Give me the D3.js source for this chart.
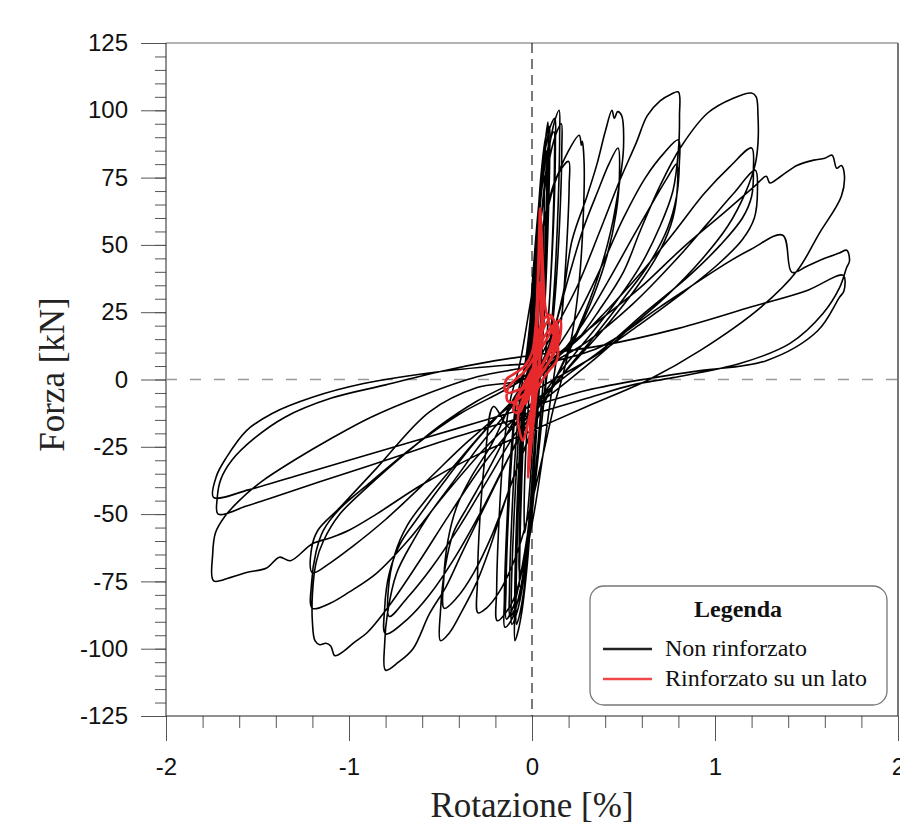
<!DOCTYPE html>
<html>
<head>
<meta charset="utf-8">
<script src="https://cdn.jsdelivr.net/npm/d3@7"></script>
<style>
  html, body { margin: 0; padding: 0; background: #ffffff; }
  svg { display: block; }
</style>
</head>
<body>
<svg id="chart" width="900" height="832"></svg>
<script>
// ---------------- DATA ----------------
const xTickValues = [-2, -1, 0, 1, 2];
const yTickValues = [-125, -100, -75, -50, -25, 0, 25, 50, 75, 100, 125];
const xMinorStep = 0.2;
const yMinorStep = 5;
const xTitle = "Rotazione [%]";
const yTitle = "Forza [kN]";
const legendTitle = "Legenda";
const seriesNames = ["Non rinforzato", "Rinforzato su un lato"];
const seriesColors = ["#000000", "#e8292c"];

// Non rinforzato: cycles [rotation %, force kN]
const c01 = [[0,0],[0.012,20],[0.025,38],[0.038,52],[0.046,58],[0.047,50],[0.041,32],[0.031,14],[0.02,0],[0.008,-18],[-0.008,-36],[-0.025,-50],[-0.04,-57],[-0.043,-48],[-0.036,-30],[-0.022,-12],[-0.01,0]];
const c02 = [[-0.005,6],[0.01,28],[0.028,50],[0.048,67],[0.065,76],[0.067,66],[0.06,44],[0.048,22],[0.034,4],[0.02,-16],[0.0,-38],[-0.022,-56],[-0.045,-67],[-0.068,-72],[-0.07,-62],[-0.062,-40],[-0.048,-18],[-0.03,-3]];
const c03 = [[0,6],[0.015,28],[0.035,55],[0.055,75],[0.072,88],[0.087,95.6],[0.089,86],[0.082,62],[0.068,35],[0.05,12],[0.035,-2],[0.02,-22],[0.0,-45],[-0.025,-68],[-0.055,-86],[-0.078,-94],[-0.093,-97],[-0.095,-86],[-0.088,-60],[-0.072,-32],[-0.052,-10],[-0.03,0]];
const c04 = [[-0.01,6],[0.01,30],[0.03,55],[0.055,75],[0.08,85],[0.081,74],[0.072,50],[0.058,24],[0.04,3],[0.025,-18],[0.005,-40],[-0.02,-60],[-0.045,-72],[-0.066,-77],[-0.067,-66],[-0.058,-42],[-0.044,-18],[-0.025,-2]];
const c04b = [[-0.015,5],[0.005,30],[0.028,56],[0.052,78],[0.075,90],[0.095,94],[0.097,84],[0.088,58],[0.072,30],[0.052,8],[0.035,-8],[0.015,-30],[-0.01,-54],[-0.04,-76],[-0.07,-88],[-0.085,-91],[-0.087,-80],[-0.078,-54],[-0.062,-28],[-0.042,-6]];
const c05 = [[-0.02,6],[0.005,32],[0.035,58],[0.065,77],[0.095,88],[0.12,92],[0.123,82],[0.115,58],[0.098,32],[0.075,10],[0.055,-6],[0.03,-26],[0.0,-48],[-0.035,-68],[-0.075,-82],[-0.12,-88],[-0.123,-78],[-0.112,-54],[-0.092,-28],[-0.068,-8],[-0.045,2]];
const c05b = [[-0.025,8],[0.0,34],[0.03,60],[0.065,82],[0.1,94],[0.125,97],[0.128,88],[0.12,62],[0.1,34],[0.078,12],[0.058,-4],[0.032,-26],[0.0,-50],[-0.04,-72],[-0.08,-86],[-0.11,-91],[-0.113,-80],[-0.1,-54],[-0.08,-28],[-0.055,-6]];
const c06 = [[-0.01,8],[0.02,35],[0.05,60],[0.085,82],[0.12,95],[0.148,100],[0.151,90],[0.143,65],[0.125,38],[0.1,15],[0.075,0],[0.05,-18],[0.015,-40],[-0.025,-62],[-0.07,-80],[-0.11,-89],[-0.148,-92],[-0.151,-82],[-0.14,-58],[-0.118,-30],[-0.09,-10],[-0.06,0]];
const c06b = [[-0.03,6],[0.01,34],[0.05,60],[0.09,80],[0.13,91],[0.16,95],[0.163,86],[0.152,60],[0.13,34],[0.1,12],[0.072,-4],[0.04,-24],[0.0,-46],[-0.05,-68],[-0.1,-84],[-0.14,-89],[-0.142,-78],[-0.13,-52],[-0.108,-26],[-0.08,-6]];
const c07 = [[-0.04,5],[0.0,28],[0.04,50],[0.09,66],[0.14,76],[0.2,81],[0.203,72],[0.19,50],[0.165,25],[0.13,6],[0.1,-8],[0.06,-28],[0.01,-50],[-0.05,-70],[-0.11,-83],[-0.19,-89.6],[-0.193,-78],[-0.18,-52],[-0.155,-26],[-0.12,-8],[-0.08,2]];
const c08 = [[-0.06,8],[-0.01,28],[0.05,52],[0.12,72],[0.2,85],[0.258,90.7],[0.27,87],[0.275,88.5],[0.285,80],[0.28,60],[0.26,38],[0.22,17],[0.17,2],[0.12,-10],[0.06,-28],[-0.01,-48],[-0.09,-66],[-0.18,-79],[-0.25,-85],[-0.295,-86.7],[-0.298,-75],[-0.285,-52],[-0.255,-28],[-0.21,-10],[-0.12,-18]];
const c09 = [[-0.12,-18],[0.0,-3],[0.1,14],[0.17,32],[0.22,52],[0.3,68],[0.355,80],[0.4,92],[0.437,100],[0.45,97],[0.468,99.5],[0.49,98],[0.5,86],[0.48,74],[0.43,55],[0.36,38],[0.26,20],[0.14,2],[0.02,-16],[-0.1,-36],[-0.17,-50],[-0.23,-62.5],[-0.3,-75],[-0.39,-87],[-0.45,-94],[-0.5,-97],[-0.5,-86],[-0.475,-70],[-0.43,-57],[-0.355,-47.6],[-0.25,-35],[-0.12,-18]];
const c10 = [[0.0,-2],[0.1,14],[0.2,38],[0.28,56],[0.36,70],[0.42,80],[0.47,86],[0.478,76],[0.46,62],[0.41,46],[0.33,30],[0.22,13],[0.1,-4],[-0.02,-22],[-0.12,-40],[-0.22,-58],[-0.32,-72],[-0.41,-81],[-0.48,-85],[-0.482,-74],[-0.46,-60],[-0.41,-47],[-0.33,-36],[-0.22,-24],[-0.1,-7]];
const c11 = [[0.0,3],[0.12,18],[0.25,35],[0.37,55],[0.48,74],[0.57,88],[0.63,98],[0.7,103.5],[0.76,106],[0.8,106.8],[0.806,98],[0.8,85],[0.77,70],[0.7,57],[0.59,42],[0.45,28],[0.3,15],[0.12,0],[0.0,-12],[-0.12,-28],[-0.25,-46],[-0.38,-64],[-0.47,-77],[-0.56,-87],[-0.65,-100],[-0.73,-105],[-0.8,-108],[-0.805,-98],[-0.79,-87],[-0.74,-72],[-0.65,-60],[-0.56,-50],[-0.42,-37],[-0.28,-24],[-0.12,-11],[0.0,-1]];
const c12 = [[0.12,10],[0.25,24],[0.38,42],[0.5,60],[0.62,75],[0.72,84],[0.8,89],[0.805,80],[0.79,68],[0.74,56],[0.64,43],[0.5,30],[0.34,16],[0.17,2],[0.02,-12],[-0.12,-28],[-0.27,-48],[-0.42,-66],[-0.56,-80],[-0.68,-89],[-0.8,-94.5],[-0.805,-85],[-0.78,-72],[-0.72,-61],[-0.62,-51],[-0.48,-38],[-0.32,-24],[-0.15,-11],[0.0,-2]];
const c13 = [[0.14,8],[0.28,21],[0.42,37],[0.56,54],[0.67,67],[0.74,75],[0.79,80],[0.795,72],[0.77,60],[0.7,48],[0.58,35],[0.42,21],[0.25,8],[0.08,-5],[-0.08,-19],[-0.24,-37],[-0.4,-55],[-0.55,-70],[-0.68,-81],[-0.78,-88],[-0.785,-78],[-0.75,-65],[-0.68,-54],[-0.56,-43],[-0.4,-30],[-0.22,-16],[-0.05,-4]];
const c14 = [[0.1,6],[0.25,15],[0.37,26],[0.5,40],[0.59,55],[0.7,72],[0.81,86],[0.96,99],[1.1,104.5],[1.2,106.4],[1.225,105],[1.235,98],[1.235,88],[1.22,80],[1.17,70],[1.07,57],[0.92,44],[0.75,32],[0.55,20],[0.35,8],[0.15,-3],[-0.05,-14],[-0.25,-30],[-0.45,-50],[-0.62,-68],[-0.78,-84],[-0.9,-94],[-0.978,-98],[-1.03,-101],[-1.077,-102.6],[-1.1,-99],[-1.126,-98],[-1.16,-98.5],[-1.186,-97],[-1.2,-90],[-1.2,-80],[-1.18,-68],[-1.14,-60],[-1.05,-50],[-0.9,-40],[-0.7,-28],[-0.5,-17],[-0.3,-8],[-0.1,-1]];
const c15 = [[0.05,5],[0.22,13],[0.4,25],[0.6,40],[0.78,55],[0.94,69],[1.08,79],[1.2,86],[1.21,78],[1.2,68],[1.15,60],[1.03,50],[0.85,38],[0.62,25],[0.4,12],[0.18,1],[-0.02,-10],[-0.25,-25],[-0.48,-43],[-0.68,-60],[-0.85,-72],[-1.0,-79],[-1.1,-83],[-1.2,-85],[-1.205,-76],[-1.18,-64],[-1.14,-56],[-1.05,-48],[-0.88,-38],[-0.65,-25],[-0.4,-13],[-0.15,-4]];
const c16 = [[0.05,4],[0.3,14],[0.55,28],[0.78,44],[0.96,58],[1.1,69],[1.22,77.7],[1.232,70],[1.215,60],[1.15,52],[1.02,43],[0.82,32],[0.58,20],[0.35,9],[0.12,0],[-0.1,-9],[-0.35,-23],[-0.58,-38],[-0.8,-52],[-0.98,-62],[-1.1,-68],[-1.2,-71.8],[-1.205,-63],[-1.17,-56],[-1.05,-47.6],[-0.85,-33],[-0.56,-12],[-0.3,-3],[-0.05,0]];
const c17 = [[0.15,10],[0.37,22],[0.59,34],[0.825,49],[1.05,62],[1.22,72],[1.28,75.5],[1.3,73],[1.36,75.5],[1.45,79.6],[1.54,81.5],[1.6,82.2],[1.64,83.3],[1.665,78.5],[1.69,79.5],[1.707,76],[1.69,68],[1.57,54.3],[1.45,40.5],[1.25,26.8],[0.92,10.8],[0.64,0],[0.3,-10],[0.0,-19],[-0.3,-28],[-0.6,-39],[-0.85,-50],[-1.0,-56],[-1.1,-58.8],[-1.2,-61],[-1.32,-67.3],[-1.38,-66],[-1.45,-70],[-1.56,-71.7],[-1.65,-73.6],[-1.74,-74.8],[-1.745,-65],[-1.73,-57],[-1.68,-51],[-1.6,-45],[-1.48,-38],[-1.3,-30],[-1.1,-22],[-0.88,-14],[-0.6,-6],[-0.3,1],[0.0,5]];
const c18 = [[0.37,12],[0.7,27],[1.07,43.5],[1.2,48.5],[1.37,53.6],[1.42,39.8],[1.5,42],[1.6,45],[1.68,47],[1.72,48],[1.735,44],[1.72,41.7],[1.68,34],[1.59,24.5],[1.41,13.4],[1.14,6],[0.77,0.7],[0.55,-2],[0.3,-7],[0.0,-13],[-0.4,-21],[-0.8,-30],[-1.16,-38],[-1.38,-43],[-1.56,-47],[-1.715,-50],[-1.72,-44],[-1.7,-37],[-1.64,-30],[-1.52,-22],[-1.35,-14],[-1.1,-7],[-0.8,-2],[-0.5,3],[-0.2,7],[0.0,9]];
const c19 = [[0.37,12.5],[0.8,19],[1.2,27],[1.5,33],[1.7,38.7],[1.705,33],[1.68,30.5],[1.56,18],[1.28,7],[0.92,3.3],[0.64,0.4],[0.3,-4],[0.0,-10],[-0.3,-16],[-0.6,-22],[-1.0,-30],[-1.3,-36],[-1.55,-41],[-1.74,-43.8],[-1.725,-36],[-1.67,-29],[-1.56,-19],[-1.42,-12.6],[-1.2,-6.6],[-0.92,-1.5],[-0.5,3],[0,6]];
const blackCycles = [c01, c02, c03, c04, c04b, c05, c05b, c06, c06b, c07, c08, c09, c10, c11, c12, c13, c14, c15, c16, c17, c18, c19];

// Rinforzato su un lato
const r01 = [[0,0],[0.02,6],[0.04,11],[0.045,9],[0.03,3],[0.01,-2],[-0.015,-6],[-0.035,-9],[-0.04,-6],[-0.025,-2],[0,2]];
const r02 = [[0.04,10],[0.08,15],[0.115,19],[0.135,21],[0.14,16],[0.11,9],[0.07,4],[0.03,0],[-0.02,-4],[-0.07,-7],[-0.11,-8.5],[-0.135,-7.8],[-0.13,-3],[-0.09,0],[-0.04,3]];
const r03 = [[0.0,7],[0.05,14],[0.1,19],[0.153,22],[0.156,17],[0.13,11],[0.09,6],[0.04,2],[-0.02,-2],[-0.08,-4],[-0.13,-5],[-0.148,-4],[-0.14,0],[-0.1,2],[-0.04,5]];
const r04 = [[0.0,10],[0.02,20],[0.03,32],[0.038,48],[0.044,63.6],[0.052,54],[0.062,38],[0.075,26],[0.11,18],[0.142,12],[0.135,7],[0.09,3],[0.04,-2],[0.01,-8],[-0.015,-14],[-0.035,-20],[-0.05,-22.7],[-0.077,-15.3],[-0.065,-10],[-0.035,-5],[0,0]];
const r05 = [[0.015,6],[0.025,16],[0.035,28],[0.04,36],[0.05,30],[0.052,20],[0.042,8],[0.025,-3],[0.01,-14],[-0.005,-24],[-0.015,-31],[-0.022,-36.5],[-0.018,-28],[-0.008,-15],[0.005,-4],[0.02,6]];
const r06 = [[0.03,15],[0.06,22],[0.1,24],[0.125,20],[0.1,12],[0.06,6],[0.02,0],[-0.03,-6],[-0.07,-12],[-0.1,-12],[-0.08,-6],[-0.03,-2],[0,2]];
const r07 = [[0.015,12],[0.028,30],[0.036,46],[0.042,58],[0.048,50],[0.055,36],[0.06,24],[0.05,12],[0.035,2],[0.02,-8],[0.005,-18],[-0.01,-28],[-0.016,-33],[-0.012,-24],[0.0,-12],[0.012,-2],[0.025,8]];
const r08 = [[0.04,14],[0.07,20],[0.11,23],[0.13,18],[0.12,13],[0.08,8],[0.04,3],[0.0,-3],[-0.04,-8],[-0.065,-12],[-0.085,-9],[-0.06,-4],[-0.02,1],[0.01,5]];
const redCycles = [r01, r02, r03, r04, r05, r06, r07, r08];

// ---------------- CHART ----------------
const svg = d3.select("#chart");
const W = 900, H = 832;
const plot = { left: 166, right: 898, top: 43, bottom: 716 };

const x = d3.scaleLinear().domain([xTickValues[0], xTickValues[xTickValues.length - 1]]).range([plot.left, plot.right]);
const y = d3.scaleLinear().domain([yTickValues[0], yTickValues[yTickValues.length - 1]]).range([plot.bottom, plot.top]);

svg.append("rect").attr("width", W).attr("height", H).attr("fill", "#ffffff");

const sans = "'Liberation Sans', Arial, sans-serif";
const serif = "'Liberation Serif', 'Times New Roman', serif";
const plainNumber = d => String(d);

// minor ticks
const xMinor = d3.range(xTickValues[0], xTickValues[xTickValues.length - 1] + 1e-9, xMinorStep);
const yMinor = d3.range(yTickValues[0], yTickValues[yTickValues.length - 1] + 1e-9, yMinorStep);

const yMinorAxis = svg.append("g").attr("transform", `translate(${plot.left},0)`)
  .call(d3.axisLeft(y).tickValues(yMinor).tickSize(11).tickFormat(""));
const yAxis = svg.append("g").attr("transform", `translate(${plot.left},0)`)
  .call(d3.axisLeft(y).tickValues(yTickValues).tickSize(25).tickPadding(13).tickFormat(plainNumber));
const xMinorAxis = svg.append("g").attr("transform", `translate(0,${plot.bottom})`)
  .call(d3.axisBottom(x).tickValues(xMinor).tickSize(12).tickFormat(""));
const xAxis = svg.append("g").attr("transform", `translate(0,${plot.bottom})`)
  .call(d3.axisBottom(x).tickValues(xTickValues).tickSize(25).tickPadding(17).tickFormat(plainNumber));

[yMinorAxis, yAxis, xMinorAxis, xAxis].forEach(g => {
  g.select(".domain").remove();
  g.selectAll(".tick line").attr("stroke", "#555").attr("stroke-width", 1);
  g.selectAll(".tick text").attr("font-family", sans).attr("font-size", 24).attr("fill", "#111");
});

// frame
svg.append("line").attr("x1", plot.left).attr("x2", plot.right).attr("y1", plot.top).attr("y2", plot.top).attr("stroke", "#666").attr("stroke-width", 1);
svg.append("line").attr("x1", plot.right).attr("x2", plot.right).attr("y1", plot.top).attr("y2", plot.bottom).attr("stroke", "#777").attr("stroke-width", 2);
svg.append("line").attr("x1", plot.left).attr("x2", plot.left).attr("y1", plot.top).attr("y2", plot.bottom).attr("stroke", "#222").attr("stroke-width", 1);
svg.append("line").attr("x1", plot.left).attr("x2", plot.right).attr("y1", plot.bottom).attr("y2", plot.bottom).attr("stroke", "#222").attr("stroke-width", 1);

// zero dashed lines
svg.append("line").attr("x1", plot.left).attr("x2", plot.right).attr("y1", y(0)).attr("y2", y(0))
  .attr("stroke", "#999").attr("stroke-width", 1.6).attr("stroke-dasharray", "11,13");
svg.append("line").attr("x1", x(0)).attr("x2", x(0)).attr("y1", plot.top).attr("y2", plot.bottom)
  .attr("stroke", "#222").attr("stroke-width", 1.2).attr("stroke-dasharray", "10,6");

// curves
const line = d3.line().x(d => x(d[0])).y(d => y(d[1])).curve(d3.curveCatmullRom.alpha(0.5));
svg.append("clipPath").attr("id", "clip").append("rect")
  .attr("x", plot.left).attr("y", plot.top).attr("width", plot.right - plot.left).attr("height", plot.bottom - plot.top);

function dedupe(points) {
  return points.filter((p, i) => i === 0 || p[0] !== points[i - 1][0] || p[1] !== points[i - 1][1]);
}

svg.append("path").datum(dedupe(blackCycles.flat()))
  .attr("clip-path", "url(#clip)")
  .attr("fill", "none").attr("stroke", seriesColors[0]).attr("stroke-width", 1.6)
  .attr("stroke-linejoin", "round").attr("d", line);

svg.append("path").datum(dedupe(redCycles.flat()))
  .attr("clip-path", "url(#clip)")
  .attr("fill", "none").attr("stroke", seriesColors[1]).attr("stroke-width", 2.6)
  .attr("stroke-linejoin", "round").attr("d", line);

// axis titles
svg.append("text").attr("x", x(0)).attr("y", 817).attr("text-anchor", "middle")
  .attr("font-family", serif).attr("font-size", 35).attr("fill", "#222").text(xTitle);
svg.append("text").attr("transform", `translate(64,${y(0) - 5}) rotate(-90)`).attr("text-anchor", "middle")
  .attr("font-family", serif).attr("font-size", 35).attr("fill", "#222").text(yTitle);

// legend
const lg = svg.append("g");
lg.append("rect").attr("x", 590).attr("y", 586).attr("width", 297).attr("height", 119).attr("rx", 14)
  .attr("fill", "#fff").attr("stroke", "#777").attr("stroke-width", 1.3);
lg.append("text").attr("x", 738).attr("y", 617).attr("text-anchor", "middle")
  .attr("font-family", serif).attr("font-weight", "bold").attr("font-size", 24).attr("fill", "#111").text(legendTitle);
seriesNames.forEach((name, i) => {
  const yy = 649 + i * 30;
  lg.append("line").attr("x1", 603).attr("x2", 652).attr("y1", yy).attr("y2", yy)
    .attr("stroke", i === 0 ? "#222" : "#f04848").attr("stroke-width", 2.5);
  lg.append("text").attr("x", 665).attr("y", yy + 7).attr("font-family", serif).attr("font-size", 24)
    .attr("fill", "#111").text(name);
});
</script>
</body>
</html>
